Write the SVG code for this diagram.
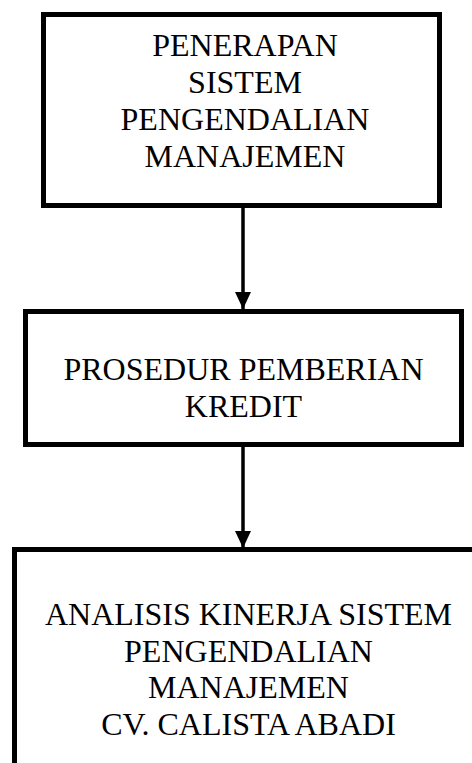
<svg xmlns="http://www.w3.org/2000/svg" width="472" height="763" viewBox="0 0 472 763">
<style>
.box{fill:#fff;stroke:#000;stroke-width:5}
.t{font-family:'Liberation Serif','Times New Roman',serif;font-size:32px;fill:#000;text-anchor:middle}
.c{stroke:#000;stroke-width:3.5;fill:none}
</style>
<defs>
<marker id="ah" markerWidth="17" markerHeight="16" refX="17" refY="8" orient="auto" markerUnits="userSpaceOnUse" viewBox="0 0 17 16">
<polygon points="0,0 17,8 0,16" fill="#000"/>
</marker>
</defs>
<rect width="472" height="763" fill="#fff"/>
<g id="node1">
<rect class="box" x="43.5" y="14.5" width="396" height="191"/>
<text class="t" x="245" y="56">PENERAPAN</text>
<text class="t" x="245" y="93">SISTEM</text>
<text class="t" x="245" y="130">PENGENDALIAN</text>
<text class="t" x="245" y="167">MANAJEMEN</text>
</g>
<g id="node2">
<rect class="box" x="25.5" y="311.5" width="436" height="133"/>
<text class="t" x="243.5" y="380">PROSEDUR PEMBERIAN</text>
<text class="t" x="243.5" y="417">KREDIT</text>
</g>
<g id="node3">
<rect class="box" x="14.5" y="549.5" width="470" height="230"/>
<text class="t" x="248.5" y="625">ANALISIS KINERJA SISTEM</text>
<text class="t" x="248.5" y="662">PENGENDALIAN</text>
<text class="t" x="248.5" y="698">MANAJEMEN</text>
<text class="t" x="248.5" y="735">CV. CALISTA ABADI</text>
</g>
<g id="connectors">
<line class="c" x1="243" y1="208" x2="243" y2="309" marker-end="url(#ah)"/>
<line class="c" x1="243" y1="447" x2="243" y2="548" marker-end="url(#ah)"/>
</g>
</svg>
